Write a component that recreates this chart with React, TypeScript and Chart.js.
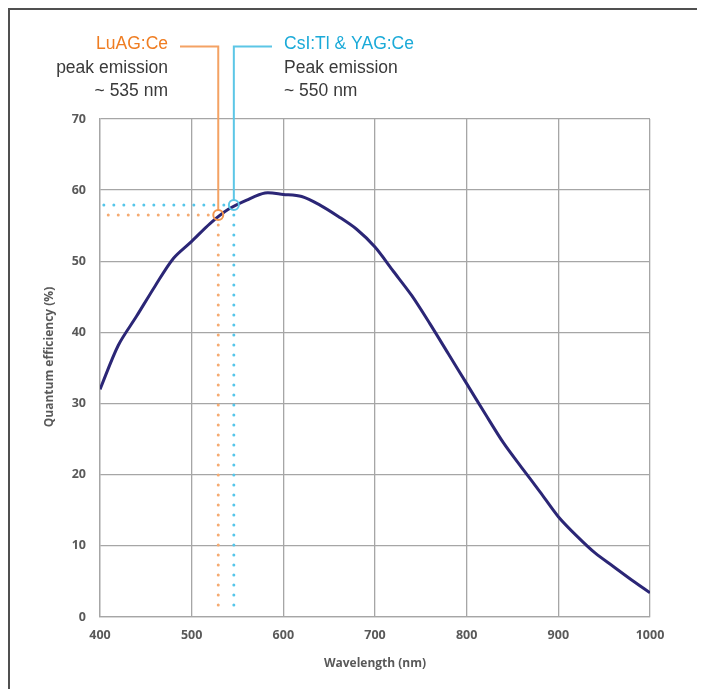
import React, { useEffect, useRef } from 'react';
import { Chart, registerables } from 'chart.js';

Chart.register(...registerables);

// ---- data ----
const wavelengths = [400, 420, 440, 460, 480, 500, 520, 540, 560, 580, 600, 620, 640, 660, 680, 700, 720, 740, 760, 780, 800, 820, 840, 860, 880, 900, 920, 940, 960, 980, 1000];
const quantumEfficiency = [32.0, 38.2, 42.3, 46.5, 50.4, 52.8, 55.3, 57.3, 58.6, 59.6, 59.4, 59.1, 57.9, 56.3, 54.5, 52.0, 48.6, 45.2, 41.2, 37.0, 32.8, 28.6, 24.5, 21.0, 17.6, 14.1, 11.4, 9.0, 7.1, 5.2, 3.4];
const xMin = 400;
const xMax = 1000;
const yMin = 0;
const yMax = 70;
const markerWavelengths = [529, 546];
const markerEfficiency = [56.5, 57.9];
const markerNames = ['LuAG:Ce', 'CsI:Tl & YAG:Ce'];
const markerLines = [
  ['peak emission', '~ 535 nm'],
  ['Peak emission', '~ 550 nm'],
];
const xAxisTitle = 'Wavelength (nm)';
const yAxisTitle = 'Quantum efficiency (%)';

const markerStyle = [
  { name: '#EF7D22', line: '#F4A264', dot: '#F5AA70', circle: '#F0944E', align: 'right' as CanvasTextAlign, textX: 158, connX: 170 },
  { name: '#1BAAD8', line: '#5CC6E6', dot: '#55C6EA', circle: '#5CC6E6', align: 'left' as CanvasTextAlign, textX: 274, connX: 262 },
];

const titleFontCss = 'bold 12px "Open Sans", "DejaVu Sans", sans-serif';

const annotationPlugin = {
  id: 'peakAnnotations',
  beforeDatasetsDraw(chart: any) {
    const { ctx, scales } = chart;
    const xs = scales.x;
    const ys = scales.y;
    ctx.save();
    markerWavelengths.forEach((wl, i) => {
      const st = markerStyle[i];
      const px = xs.getPixelForValue(wl);
      const py = ys.getPixelForValue(markerEfficiency[i]);
      ctx.strokeStyle = st.dot;
      ctx.lineWidth = 3;
      ctx.lineCap = 'round';
      ctx.setLineDash([0, 10]);
      ctx.beginPath();
      ctx.moveTo(px - 10, py);
      ctx.lineTo(xs.getPixelForValue(xMin) + 3, py);
      ctx.stroke();
      ctx.beginPath();
      ctx.moveTo(px, py + 10);
      ctx.lineTo(px, ys.getPixelForValue(yMin) - 3);
      ctx.stroke();
    });
    ctx.restore();
  },
  afterDatasetsDraw(chart: any) {
    const { ctx, scales, chartArea } = chart;
    const xs = scales.x;
    const ys = scales.y;
    ctx.save();
    markerWavelengths.forEach((wl, i) => {
      const st = markerStyle[i];
      const px = xs.getPixelForValue(wl);
      const py = ys.getPixelForValue(markerEfficiency[i]);
      const r = 5;
      ctx.setLineDash([]);
      ctx.strokeStyle = st.line;
      ctx.lineWidth = 2;
      ctx.lineCap = 'butt';
      ctx.beginPath();
      ctx.moveTo(st.connX, 36.5);
      ctx.lineTo(px, 36.5);
      ctx.lineTo(px, py - r);
      ctx.stroke();
      ctx.strokeStyle = st.circle;
      ctx.lineWidth = 2;
      ctx.beginPath();
      ctx.arc(px, py, r, 0, Math.PI * 2);
      ctx.stroke();
      ctx.textAlign = st.align;
      ctx.textBaseline = 'alphabetic';
      ctx.font = '17.5px "Liberation Sans", Arial, sans-serif';
      ctx.fillStyle = st.name;
      ctx.fillText(markerNames[i], st.textX, 39);
      ctx.fillStyle = '#3a3a3a';
      ctx.fillText(markerLines[i][0], st.textX, 63);
      ctx.fillText(markerLines[i][1], st.textX, 86);
    });
    // y axis title
    ctx.save();
    ctx.translate(40, (chartArea.top + chartArea.bottom) / 2 - 11);
    ctx.rotate(-Math.PI / 2);
    ctx.font = titleFontCss;
    ctx.fillStyle = '#595959';
    ctx.textAlign = 'center';
    ctx.textBaseline = 'middle';
    ctx.fillText(yAxisTitle, 0, 0);
    ctx.restore();
    ctx.restore();
  },
};

export default function App() {
  const canvasRef = useRef<HTMLCanvasElement | null>(null);

  useEffect(() => {
    document.documentElement.style.overflow = 'hidden';
    document.body.style.overflow = 'hidden';
    const canvas = canvasRef.current;
    if (!canvas) return;
    const tickFont = { family: '"Open Sans", "DejaVu Sans", sans-serif', size: 12.5, weight: 'bold' as const };
    const titleFont = { family: '"Open Sans", "DejaVu Sans", sans-serif', size: 12, weight: 'bold' as const };
    const chart = new Chart(canvas, {
      type: 'line',
      data: {
        datasets: [
          {
            data: wavelengths.map((w, i) => ({ x: w, y: quantumEfficiency[i] })),
            borderColor: '#2B2676',
            borderWidth: 3,
            pointRadius: 0,
            tension: 0.3,
            fill: false,
          },
        ],
      },
      options: {
        animation: false,
        responsive: true,
        maintainAspectRatio: false,
        layout: { padding: { top: 109, right: 55, left: 0, bottom: 0 } },
        plugins: {
          legend: { display: false },
          tooltip: { enabled: false },
        },
        scales: {
          x: {
            type: 'linear',
            min: xMin,
            max: xMax,
            afterFit(scale: any) {
              scale.height = 72;
            },
            ticks: {
              stepSize: 100,
              color: '#595959',
              font: tickFont,
              padding: 11,
              maxRotation: 0,
              callback: (v: any) => String(v),
            },
            grid: { color: '#a6a6a6', lineWidth: 1.3, drawTicks: false },
            border: { color: '#a6a6a6', width: 1.3 },
            title: {
              display: true,
              text: xAxisTitle,
              color: '#595959',
              font: titleFont,
              padding: { top: 0, bottom: 18 },
            },
          },
          y: {
            type: 'linear',
            min: yMin,
            max: yMax,
            afterFit(scale: any) {
              scale.width = 90;
            },
            ticks: {
              stepSize: 10,
              color: '#595959',
              font: tickFont,
              padding: 14,
              callback: (v: any) => String(v),
            },
            grid: { color: '#a6a6a6', lineWidth: 1.3, drawTicks: false },
            border: { color: '#a6a6a6', width: 1.3 },
            title: { display: false },
          },
        },
      },
      plugins: [annotationPlugin],
    });
    return () => chart.destroy();
  }, []);

  return (
    <div
      style={{
        width: 705,
        height: 689,
        boxSizing: 'border-box',
        borderTop: '2px solid #505050',
        borderLeft: '2px solid #505050',
        background: '#fff',
      }}
    >
      <div style={{ position: 'relative', width: 695, height: 679 }}>
        <canvas ref={canvasRef} />
      </div>
    </div>
  );
}
